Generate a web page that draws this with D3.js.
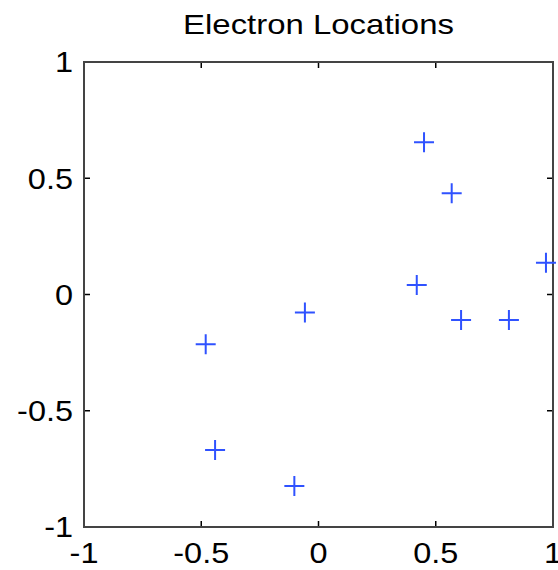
<!DOCTYPE html>
<html>
<head>
<meta charset="utf-8">
<script src="https://cdn.jsdelivr.net/npm/d3@7"></script>
<style>
  body { margin: 0; background: #fff; }
  text { font-family: "Liberation Sans", Arial, sans-serif; fill: #000; }
</style>
</head>
<body>
<div id="chart"></div>
<script>
// electron positions
const xs = [0.450, 0.568, 0.970, 0.419, 0.608, 0.812, -0.058, -0.481, -0.441, -0.103];
const ys = [0.655, 0.435, 0.137, 0.041, -0.110, -0.110, -0.077, -0.214, -0.669, -0.824];
const tickVals = [-1, -0.5, 0, 0.5, 1];
const titleText = "Electron Locations";

const width = 558, height = 570;
const margin = { top: 62, right: 5, bottom: 43, left: 84 };

const svg = d3.select("#chart")
    .append("svg")
    .attr("width", width)
    .attr("height", height);

const x = d3.scaleLinear().domain([-1, 1]).range([margin.left, width - margin.right]);
const y = d3.scaleLinear().domain([-1, 1]).range([height - margin.bottom, margin.top]);

// inward ticks on all four sides
const tickLen = 6;
svg.append("g")
    .selectAll("line")
    .data(tickVals)
    .enter()
    .append("line")
    .attr("x1", d => x(d)).attr("x2", d => x(d))
    .attr("y1", y(-1)).attr("y2", y(-1) - tickLen)
    .attr("stroke", "#000").attr("stroke-width", 1.5);
svg.append("g")
    .selectAll("line")
    .data(tickVals)
    .enter()
    .append("line")
    .attr("x1", d => x(d)).attr("x2", d => x(d))
    .attr("y1", y(1)).attr("y2", y(1) + tickLen)
    .attr("stroke", "#000").attr("stroke-width", 1.5);
svg.append("g")
    .selectAll("line")
    .data(tickVals)
    .enter()
    .append("line")
    .attr("y1", d => y(d)).attr("y2", d => y(d))
    .attr("x1", x(-1)).attr("x2", x(-1) + tickLen)
    .attr("stroke", "#000").attr("stroke-width", 1.5);
svg.append("g")
    .selectAll("line")
    .data(tickVals)
    .enter()
    .append("line")
    .attr("y1", d => y(d)).attr("y2", d => y(d))
    .attr("x1", x(1)).attr("x2", x(1) - tickLen)
    .attr("stroke", "#000").attr("stroke-width", 1.5);

// box
svg.append("rect")
    .attr("x", x(-1))
    .attr("y", y(1))
    .attr("width", x(1) - x(-1))
    .attr("height", y(-1) - y(1))
    .attr("fill", "none")
    .attr("stroke", "#444")
    .attr("stroke-width", 2);

// tick labels, a little wider than the font (the picture is stretched)
const fmt = d => String(d);
svg.append("g")
    .selectAll("text")
    .data(tickVals)
    .enter()
    .append("text")
    .attr("transform", d => `translate(${x(d)},${y(-1) + 36}) scale(1.12,1)`)
    .attr("text-anchor", "middle")
    .style("font-size", "29px")
    .text(fmt);
svg.append("g")
    .selectAll("text")
    .data(tickVals)
    .enter()
    .append("text")
    .attr("transform", d => `translate(${x(-1) - 11},${y(d)}) scale(1.12,1)`)
    .attr("dy", "0.36em")
    .attr("text-anchor", "end")
    .style("font-size", "29px")
    .text(fmt);

// title
svg.append("text")
    .attr("transform", `translate(${(x(-1) + x(1)) / 2},34) scale(1.22,1)`)
    .attr("text-anchor", "middle")
    .style("font-size", "27px")
    .text(titleText);

// plus markers
const half = 10;
const pts = xs.map((d, i) => ({ x: d, y: ys[i] }));
svg.append("g")
    .selectAll("path")
    .data(pts)
    .enter()
    .append("path")
    .attr("d", d => `M${x(d.x) - half},${y(d.y)}H${x(d.x) + half}M${x(d.x)},${y(d.y) - half}V${y(d.y) + half}`)
    .attr("stroke", "#2f52ff")
    .attr("stroke-width", 2)
    .attr("fill", "none");
</script>
</body>
</html>
